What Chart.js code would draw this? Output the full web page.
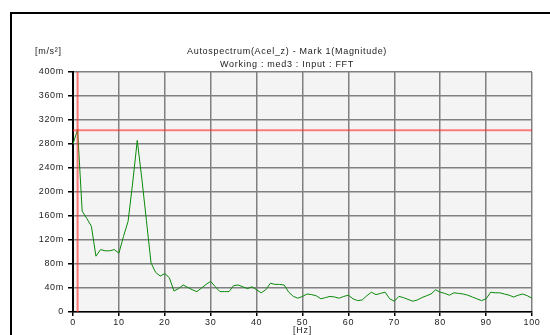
<!DOCTYPE html>
<html>
<head>
<meta charset="utf-8">
<script src="https://cdn.jsdelivr.net/npm/chart.js@4"></script>
<style>
  html, body { margin: 0; padding: 0; background: #fff; overflow: hidden; }
  #wrap { position: relative; width: 550px; height: 335px; }
  #frame { position: absolute; left: 10px; top: 12px; width: 600px; height: 400px;
           border-left: 2px solid #000; border-top: 2px solid #000; box-sizing: border-box; }
  canvas { position: absolute; left: 0; top: 0; }
</style>
</head>
<body>
<div id="wrap">
  <div id="frame"></div>
  <canvas id="spectrum" width="550" height="335"></canvas>
</div>
<script>
// Autospectrum of Acel_z, 1 Hz resolution, values in m/s² * 1e-3 (m)
const freqHz = [];
for (let f = 0; f <= 100; f++) freqHz.push(f);

const magnitude = [
  280, 304, 168, 156, 143, 93, 104, 102, 102, 104,   // 0-9
  98, 126, 151, 215, 286, 222, 152, 82, 66, 60,      // 10-19
  64, 57, 35, 39, 45, 41, 37, 34, 40, 46,            // 20-29
  51, 42, 34, 34, 34, 44, 45, 42, 39, 42,            // 30-39
  37, 32, 37, 48, 46, 46, 45, 33, 26, 23,            // 40-49
  26, 30, 29, 27, 22, 24, 26, 25, 23, 26,            // 50-59
  28, 22, 19, 20, 27, 33, 29, 31, 33, 22,            // 60-69
  18, 26, 24, 21, 18, 20, 24, 27, 30, 37,            // 70-79
  33, 31, 28, 32, 31, 30, 28, 25, 22, 19,            // 80-89
  22, 33, 32, 32, 30, 28, 25, 28, 30, 27,            // 90-99
  23                                                 // 100
];

// cursor lines (Mark 1)
const markFreq = 1;
const markLevel = 303;

const yTicks = [0, 40, 80, 120, 160, 200, 240, 280, 320, 360, 400];
const xTicks = [0, 10, 20, 30, 40, 50, 60, 70, 80, 90, 100];

const titleLines = ['Autospectrum(Acel_z) - Mark 1(Magnitude)', 'Working : med3 : Input : FFT'];
const yUnit = '[m/s²]';
const xUnit = '[Hz]';

const FONT = '"Liberation Sans", Arial, sans-serif';
const SPACING = '0.7px';

// the analyser prints its labels slightly letter-spaced
const spacedText = {
  id: 'spacedText',
  beforeLayout(chart) { chart.ctx.letterSpacing = SPACING; },
  beforeDraw(chart) { chart.ctx.letterSpacing = SPACING; }
};

// light gray plot background
const plotBackground = {
  id: 'plotBackground',
  beforeDraw(chart) {
    const { ctx, chartArea: a } = chart;
    ctx.save();
    ctx.fillStyle = '#f4f4f4';
    ctx.fillRect(a.left, a.top, a.right - a.left, a.bottom - a.top);
    ctx.restore();
  }
};

// header texts and units
const headerText = {
  id: 'headerText',
  afterDraw(chart) {
    const { ctx } = chart;
    const xs = chart.scales.x;
    ctx.save();
    ctx.fillStyle = '#222';
    ctx.font = '9px ' + FONT;
    ctx.textBaseline = 'middle';
    ctx.textAlign = 'center';
    ctx.fillText(titleLines[0], 287, 52);
    ctx.fillText(titleLines[1], 287, 65);
    ctx.textAlign = 'left';
    ctx.fillText(yUnit, 35, 52);
    ctx.textAlign = 'center';
    ctx.fillText(xUnit, xs.getPixelForValue(50), 331);
    ctx.restore();
  }
};

new Chart(document.getElementById('spectrum'), {
  type: 'line',
  data: {
    datasets: [
      {
        data: [{ x: markFreq, y: 0 }, { x: markFreq, y: 400 }],
        borderColor: 'rgba(255, 40, 40, 0.6)',
        borderWidth: 2,
        pointRadius: 0
      },
      {
        data: [{ x: 0, y: markLevel }, { x: 100, y: markLevel }],
        borderColor: 'rgba(255, 40, 40, 0.6)',
        borderWidth: 2,
        pointRadius: 0
      },
      {
        data: freqHz.map((f, i) => ({ x: f, y: magnitude[i] })),
        borderColor: '#0a8a0a',
        borderWidth: 1,
        pointRadius: 0,
        tension: 0
      }
    ]
  },
  options: {
    responsive: false,
    animation: false,
    events: [],
    layout: { padding: { top: 72, right: 18, left: 0, bottom: 0 } },
    plugins: {
      legend: { display: false },
      tooltip: { enabled: false },
      title: { display: false }
    },
    scales: {
      x: {
        type: 'linear',
        min: 0,
        max: 100,
        afterBuildTicks(scale) { scale.ticks = xTicks.map(v => ({ value: v })); },
        afterFit(scale) { scale.height = 23; },
        grid: { color: '#808080', lineWidth: 1.5, tickLength: 4, tickColor: '#000' },
        border: { color: '#000', width: 1.5 },
        ticks: { color: '#222', font: { family: FONT, size: 9 }, padding: 1, maxRotation: 0 }
      },
      y: {
        min: 0,
        max: 400,
        afterBuildTicks(scale) { scale.ticks = yTicks.map(v => ({ value: v })); },
        afterFit(scale) { scale.width = 73; },
        grid: { color: '#808080', lineWidth: 1.5, tickLength: 5, tickColor: '#000' },
        border: { color: '#000', width: 2 },
        ticks: {
          color: '#222',
          font: { family: FONT, size: 9 },
          padding: 4,
          callback: v => (v === 0 ? '0' : v + 'm')
        }
      }
    }
  },
  plugins: [spacedText, plotBackground, headerText]
});
</script>
</body>
</html>
